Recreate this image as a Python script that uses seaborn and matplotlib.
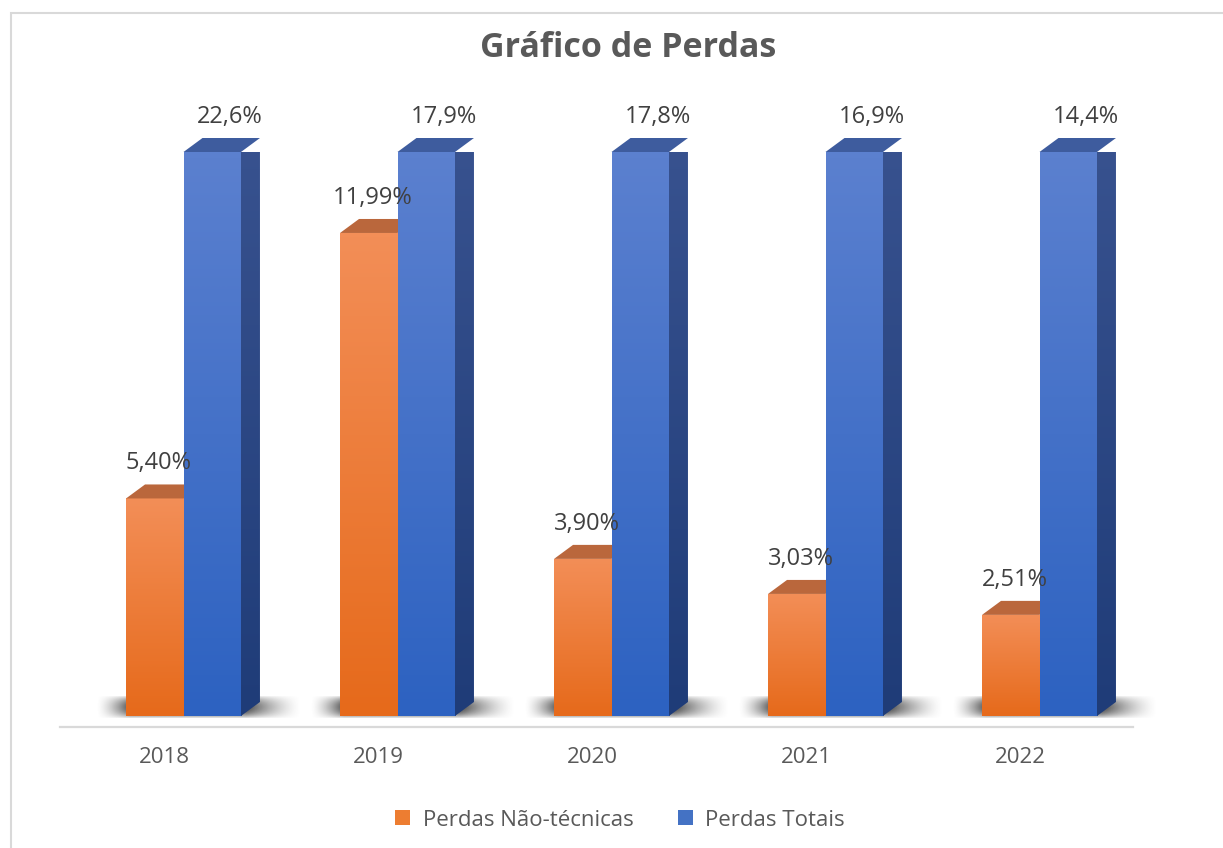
import numpy as np
import pandas as pd
import matplotlib.pyplot as plt
import matplotlib.transforms as mtransforms
from matplotlib.colors import LinearSegmentedColormap, to_rgb
from matplotlib.patches import Patch, Polygon, Rectangle
import seaborn as sns

# Dados
anos = ["2018", "2019", "2020", "2021", "2022"]
series = ["Perdas Não-técnicas", "Perdas Totais"]
perdas_nao_tecnicas = [5.40, 11.99, 3.90, 3.03, 2.51]
perdas_totais = [22.6, 17.9, 17.8, 16.9, 14.4]
rotulos_nao_tecnicas = ["5,40%", "11,99%", "3,90%", "3,03%", "2,51%"]
rotulos_totais = ["22,6%", "17,9%", "17,8%", "16,9%", "14,4%"]
y_max = 14  # eixo fixo como no original: as barras de Perdas Totais ficam cortadas

df = pd.DataFrame({
    "ano": anos * 2,
    "serie": [series[0]] * len(anos) + [series[1]] * len(anos),
    "valor": perdas_nao_tecnicas + perdas_totais,
})

# Cores (frente topo/base, lateral topo/base, tampa)
cores = {
    series[0]: dict(base="#ED7D31", front=("#F38E57", "#E66A1B"),
                    side=("#C0662F", "#A9531A"), top="#BA673C"),
    series[1]: dict(base="#4472C4", front=("#5B80CF", "#2D62C1"),
                    side=("#38528F", "#1F3C78"), top="#3E5C9E"),
}

W, H, DPI = 1223, 848, 100
sns.set_style("white")
plt.rcParams["font.family"] = ["Open Sans", "DejaVu Sans"]

fig = plt.figure(figsize=(W / DPI, H / DPI), dpi=DPI)
ax_l, ax_r, ax_t, ax_b = 76.5, 1146.5, 152, 716
ax = fig.add_axes([ax_l / W, 1 - ax_b / H, (ax_r - ax_l) / W, (ax_b - ax_t) / H])

sns.barplot(data=df, x="ano", y="valor", hue="serie", order=anos, hue_order=series,
            palette=[cores[s]["base"] for s in series], width=0.537, saturation=1,
            legend=False, ax=ax, zorder=2)
ax.set_xlim(-0.5, len(anos) - 0.5)
ax.set_ylim(0, y_max)

# escala em pixels para o efeito 3D
sx = (ax_r - ax_l) / len(anos)
sy = (ax_b - ax_t) / y_max
dx, dy = 19 / sx, 14 / sy


def gradiente(c_top, c_bot, extent, z, clip=None):
    cmap = LinearSegmentedColormap.from_list("g", [c_top, c_bot])
    im = ax.imshow(np.linspace(0, 1, 64).reshape(-1, 1), cmap=cmap, aspect="auto",
                   extent=extent, origin="upper", zorder=z, interpolation="bicubic")
    if clip is not None:
        im.set_clip_path(clip)
    return im


# sombra no chão
orange_bars = list(ax.containers[0])
blue_bars = list(ax.containers[1])
for bo, bb in zip(orange_bars, blue_bars):
    left = bo.get_x() - 30 / sx
    right = bb.get_x() + bb.get_width() + dx + 42 / sx
    npx = int((right - left) * sx)
    xp = np.linspace(left, right, npx)
    fx = np.clip((xp - left) / (34 / sx), 0, 1) ** 1.5
    r_edge = bb.get_x() + bb.get_width() + dx * 0.3
    fx *= np.clip(1 - (xp - r_edge) / (right - r_edge), 0, 1) ** 1.5
    ys = np.linspace(0, 1, 24).reshape(-1, 1)
    fy = np.sin(np.pi * ys) ** 0.8
    img = np.zeros((24, npx, 4))
    img[..., :3] = to_rgb("#3A3A3A")
    img[..., 3] = 0.9 * fy * fx[None, :]
    ax.imshow(img, extent=(left, right, -3 / sy, 21 / sy), aspect="auto",
              zorder=1, clip_on=False, origin="upper")

# faces 3D
for k, (serie, bars) in enumerate(zip(series, [orange_bars, blue_bars])):
    c = cores[serie]
    zf = 2 + 2 * k
    for bar in bars:
        x0, w = bar.get_x(), bar.get_width()
        top = min(bar.get_height(), y_max)
        x1 = x0 + w
        bar.set_visible(False)
        front = Rectangle((x0, 0), w, top, transform=ax.transData)
        gradiente(c["front"][0], c["front"][1], (x0, x1, 0, top), zf, clip=front)
        if k == 1:
            side = Polygon([(x1, 0), (x1 + dx, dy), (x1 + dx, top + dy), (x1, top)],
                           closed=True, transform=ax.transData)
            gradiente(c["side"][0], c["side"][1], (x1, x1 + dx, 0, top + dy), zf, clip=side)
        ax.add_patch(Polygon([(x0, top), (x0 + dx, top + dy), (x1 + dx, top + dy), (x1, top)],
                             closed=True, facecolor=c["top"], edgecolor="none",
                             zorder=zf + 0.5, clip_on=False))

ax.set_xlim(-0.5, len(anos) - 0.5)
ax.set_ylim(0, y_max)

# rótulos de dados
px = 72 / DPI
for bars, rot, off in [(orange_bars, rotulos_nao_tecnicas, 4), (blue_bars, rotulos_totais, 18)]:
    for bar, txt in zip(bars, rot):
        top = min(bar.get_height(), y_max)
        ax.annotate(txt, xy=(bar.get_x() + bar.get_width() / 2, top),
                    xytext=(off * px, 29 * px), textcoords="offset points",
                    ha="center", va="baseline", fontsize=17, color="#404040",
                    annotation_clip=False, zorder=10)

# eixos
for s in ["left", "right", "top"]:
    ax.spines[s].set_visible(False)
ax.spines["bottom"].set_position(("outward", 11 * px))
ax.spines["bottom"].set_color("#D9D9D9")
ax.spines["bottom"].set_linewidth(1.6)
ax.spines["bottom"].set_bounds(-0.5 - 16.5 / sx, len(anos) - 0.5 - 13.5 / sx)
ax.set_yticks([])
ax.set_xlabel("")
ax.set_ylabel("")
ax.tick_params(axis="x", length=0, pad=36 * px, labelsize=16, labelcolor="#595959")
shift = mtransforms.ScaledTranslation(-19 / DPI, 0, fig.dpi_scale_trans)
for lab in ax.get_xticklabels():
    lab.set_verticalalignment("baseline")
    lab.set_transform(lab.get_transform() + shift)

# título
fig.text(628 / W, 1 - 57 / H, "Gráfico de Perdas", ha="center", va="baseline",
         fontsize=24.5, fontweight="bold", color="#595959")

# legenda
handles = [Patch(facecolor=cores[s]["base"], edgecolor="none", label=s) for s in series]
fig.legend(handles=handles, loc="center", bbox_to_anchor=(620 / W, 1 - 820 / H),
           ncol=2, frameon=False, fontsize=16, labelcolor="#595959",
           handlelength=0.68, handleheight=0.68, handletextpad=0.55, columnspacing=2.0)

# moldura
fig.add_artist(Rectangle((11 / W, -0.1), 2, (H - 13) / H + 0.1, transform=fig.transFigure,
                         facecolor="none", edgecolor="#D9D9D9", linewidth=1.5))

fig.savefig("out.png", dpi=DPI)
